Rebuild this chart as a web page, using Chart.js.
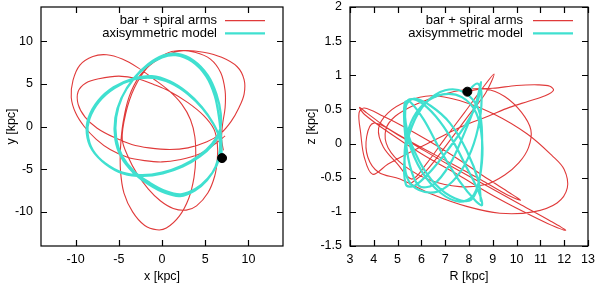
<!DOCTYPE html>
<html>
<head>
<meta charset="utf-8">
<script src="https://cdn.jsdelivr.net/npm/chart.js@4"></script>
<style>
  body { margin: 0; background: #fff; }
  #wrap { display: flex; width: 600px; height: 288px; }
  canvas { display: block; }
</style>
</head>
<body>
<div id="wrap">
  <canvas id="left" width="300" height="288"></canvas>
  <canvas id="right" width="300" height="288"></canvas>
</div>
<script>
const seriesLabels = ['bar + spiral arms', 'axisymmetric model'];
const redColor = '#e03a3a';
const cyanColor = '#40e0d0';

// left panel: x-y plane [kpc]
const xyTicks = [-10, -5, 0, 5, 10];
const startXY = [[6.95, -3.7]];
const redXY = [
  [7.3,-1.1],[6.2,-2.0],[4.4,-3.2],[2,-3.9],[0,-4.15],[-2,-4.0],[-4,-3.6],[-6,-2.7],[-7.6,-1.5],[-9,0],
  [-10,1.6],[-10.5,3.4],[-10.3,5.4],[-9.5,7.2],[-8,8.2],[-6.4,8.4],[-4.6,7.9],[-2.8,6.9],[-1,5.6],[0.8,4.2],
  [2.3,2.6],[3.3,0.8],[3.8,-1.2],[3.9,-3.6],[3.7,-6],[3.1,-8.4],[2,-10.5],[0.5,-11.9],[-0.6,-12.1],[-2,-11.6],
  [-3.4,-10],[-4.4,-7.8],[-4.8,-5.2],[-4.8,-2.5],[-4.5,0.5],[-3.8,3.5],[-2.6,5.9],[-1,7.5],[0.8,8.5],[2.7,8.9],
  [4.8,8.7],[6.9,8.1],[8.7,7],[9.5,5.5],[9.5,3.8],[8.9,2.2],[8,0.6],[6.8,-0.8],[5.2,-1.8],[3,-2.5],
  [0.9,-2.7],[-1.5,-2.5],[-3.5,-2.1],[-5.5,-1.3],[-7.5,-0.2],[-8.9,1.1],[-9.7,2.6],[-9.7,4.1],[-8.8,5.1],[-7.3,5.6],
  [-5,5.9],[-2.8,5.6],[-0.9,4.9],[0.9,4.1],[3,2.8],[4.8,1.3],[6,-0.3],[6.4,-2],[6.4,-3.8],[6.1,-5.8],
  [5.3,-7.8],[4,-9.3],[2.8,-9.8],[1.3,-9.6],[-0.2,-8.7],[-1.6,-7.3],[-2.9,-5.5],[-3.9,-3.6],[-4.6,-1.5],[-4.2,1.5],
  [-3.2,4.5],[-1.6,7.0],[0.4,8.5],[2,8.9],[3.8,8.7],[5.6,7.9],[6.8,6.3],[7.3,4.2],[7.3,2.2],[7.0,0.2],
  [6.9,-1.5],[7.1,-2.8]
];
const cyanXY = [
  [6.9,-3.7],[6.85,-1.6],[6.6,1.0],[6.1,3.6],[5.1,5.9],[3.5,7.6],[1.6,8.35],[0,8.1],[-1.7,7.1],[-3.4,5.4],
  [-4.7,3.3],[-5.4,1],[-5.4,-1.5],[-4.7,-3.6],[-3.3,-5.4],[-1.5,-6.8],[0.4,-7.8],[2.1,-8.15],[3.8,-7.5],[5.2,-6.3],
  [6.2,-4.7],[6.7,-2.8],[6.6,-1.2],[5.9,0.4],[4.6,2.3],[2.9,4.0],[0.9,5.3],[-1.2,5.9],[-3.4,5.6],[-5.6,4.6],
  [-7.4,3.0],[-8.5,1.0],[-8.7,-0.8],[-8.1,-2.7],[-6.6,-4.3],[-4.6,-5.4],[-2.3,-5.7],[0,-5.4],[2.3,-4.6],[4.3,-3.4],
  [5.8,-2.0],[6.7,-0.4],[6.8,1.5],[6.3,3.8],[5.3,6.0],[3.7,7.7],[1.8,8.5],[0.1,8.3],[-1.6,7.3],[-3.3,5.6],
  [-4.6,3.5],[-5.3,1.1],[-5.3,-1.4],[-4.6,-3.5],[-3.2,-5.3],[-1.4,-6.6],[0.5,-7.6],[2.2,-7.95],[3.9,-7.3],[5.3,-6.1],
  [6.3,-4.6],[6.8,-3.0],[6.7,-1.4],[6.0,0.2],[4.7,2.1],[3.0,3.8],[1.0,5.1],[-1.1,5.7],[-3.3,5.5],[-5.5,4.5],
  [-7.3,2.9],[-8.4,0.9],[-8.6,-0.9],[-8.0,-2.8],[-6.5,-4.4],[-4.5,-5.5],[-2.2,-5.8],[0.1,-5.5],[2.4,-4.7],[4.4,-3.5],
  [5.9,-2.1],[6.8,-0.6]
];

// right panel: meridional plane R-z [kpc]
const rTicks = [3, 4, 5, 6, 7, 8, 9, 10, 11, 12, 13];
const zTicks = [-1.5, -1, -0.5, 0, 0.5, 1, 1.5, 2];
const startRZ = [[7.93, 0.76]];
const redRZ = [
  [7.93,0.76],[8.7,0.8],[9.5,0.69],[10.2,0.46],[10.6,0.2],[10.5,-0.06],[10.1,-0.28],[9.5,-0.46],[8.7,-0.6],[7.6,-0.63],
  [6.4,-0.54],[5.3,-0.33],[4.6,-0.06],[4.5,0.2],[4.9,0.4],[5.8,0.58],[6.9,0.72],[8.0,0.8],[9.0,0.81],[10.0,0.85],
  [10.9,0.86],[11.4,0.84],[11.55,0.78],[11.2,0.7],[10.5,0.62],[9.7,0.53],[8.8,0.4],[7.7,0.25],[6.6,0.06],[5.5,-0.13],
  [4.6,-0.3],[3.95,-0.45],[3.6,-0.2],[3.45,0.15],[3.38,0.45],[3.6,0.52],[4.4,0.4],[5.3,0.24],[6.3,0.04],[7.6,-0.24],
  [8.8,-0.52],[9.7,-0.72],[10.16,-0.83],[9.6,-0.75],[8.5,-0.53],[7.2,-0.28],[5.9,-0.04],[4.6,0.22],[3.7,0.45],[3.4,0.53],
  [3.6,0.43],[4.6,0.17],[6,-0.15],[7.5,-0.45],[9,-0.76],[10.3,-1.0],[11.3,-1.17],[12.06,-1.27],[11.4,-1.13],[10.2,-0.9],
  [8.8,-0.63],[7.4,-0.36],[6.1,-0.1],[5,0.13],[4.0,0.3],[3.7,0.1],[3.75,-0.2],[4.2,-0.42],[5.1,-0.52],[6.5,-0.75],
  [7.9,-0.92],[9.3,-1.02],[10.7,-1.0],[11.7,-0.87],[12.13,-0.65],[12.0,-0.38],[11.5,-0.18],[10.45,0.14],[9.0,0.44],[7.6,0.63],
  [6.4,0.7],[5.4,0.62],[4.6,0.45],[4.2,0.22],[4.4,-0.05],[5.0,-0.3],[5.6,-0.52],[6.2,-0.3],[7.0,0.08],[7.8,0.45],
  [8.5,0.78],[9.05,1.02],[8.7,0.74],[8.0,0.42],[7.1,0.0],[6.2,-0.4],[5.5,-0.6]
];
const cyanRZ = [
  [7.93,0.76],[8.35,0.88],[8.52,0.75],[8.45,0.35],[8.1,-0.1],[7.5,-0.48],[6.7,-0.7],[5.9,-0.68],[5.4,-0.5],[5.3,-0.1],
  [5.55,0.3],[6.1,0.58],[6.9,0.72],[7.7,0.68],[8.3,0.45],[8.55,0.05],[8.5,-0.4],[8.2,-0.75],[7.6,-0.85],[6.8,-0.72],
  [6.0,-0.4],[5.45,0.05],[5.3,0.45],[5.45,0.64],[5.9,0.62],[6.6,0.4],[7.3,0.05],[7.9,-0.35],[8.4,-0.7],[8.55,-0.9],
  [8.3,-0.85],[7.6,-0.55],[6.8,-0.1],[6.1,0.35],[5.5,0.62],[5.3,0.6],[5.3,0.2],[5.5,-0.3],[5.9,-0.62],[6.5,-0.6],
  [7.2,-0.3],[7.8,0.15],[8.3,0.6],[8.5,0.9],[8.35,0.6],[7.9,0.3],[7.2,-0.05],[6.4,-0.4],[5.7,-0.62],[5.35,-0.6],
  [5.3,-0.2],[5.6,0.25],[6.2,0.6],[7.0,0.78],[7.8,0.75],[8.4,0.5],[8.55,0.1],[8.45,-0.5],[8.1,-0.82],[7.4,-0.8],
  [6.6,-0.6],[5.9,-0.25],[5.4,0.2],[5.35,0.55],[5.7,0.66],[6.4,0.55],[7.2,0.3],[7.9,-0.1],[8.4,-0.55],[8.5,-0.85]
];

const toPts = arr => arr.map(p => ({ x: p[0], y: p[1] }));

Chart.defaults.font.family = '"Liberation Sans", Arial, sans-serif';
Chart.defaults.font.size = 12;
Chart.defaults.color = '#000';

const framePlugin = {
  id: 'frame',
  afterDraw(chart, args, opts) {
    const { ctx, chartArea: a, scales } = chart;
    ctx.save();
    ctx.strokeStyle = '#000';
    ctx.lineWidth = 1.2;
    ctx.strokeRect(a.left, a.top, a.right - a.left, a.bottom - a.top);
    const len = 6;
    ctx.beginPath();
    scales.x.ticks.forEach(t => {
      const px = Math.round(scales.x.getPixelForValue(t.value)) + 0.5;
      ctx.moveTo(px, a.bottom); ctx.lineTo(px, a.bottom - len);
      ctx.moveTo(px, a.top); ctx.lineTo(px, a.top + len);
    });
    scales.y.ticks.forEach(t => {
      const py = Math.round(scales.y.getPixelForValue(t.value)) + 0.5;
      ctx.moveTo(a.left, py); ctx.lineTo(a.left + len, py);
      ctx.moveTo(a.right, py); ctx.lineTo(a.right - len, py);
    });
    ctx.stroke();

    // legend, gnuplot style: text right aligned, sample line on the right
    ctx.font = '13px "Liberation Sans", Arial, sans-serif';
    ctx.textAlign = 'right';
    ctx.textBaseline = 'middle';
    ctx.fillStyle = '#000';
    const rows = [[seriesLabels[0], redColor, 1.2], [seriesLabels[1], cyanColor, 2.2]];
    rows.forEach((r, i) => {
      const y = opts.y0 + i * 12.6;
      ctx.fillText(r[0], opts.textRight, y);
      ctx.strokeStyle = r[1];
      ctx.lineWidth = r[2];
      ctx.beginPath();
      ctx.moveTo(opts.lineX0, y); ctx.lineTo(opts.lineX1, y);
      ctx.stroke();
    });
    ctx.restore();
  }
};

function makeChart(canvasId, red, cyan, start, range, ticks, titles, yWidth, padRight, legendPos) {
  const fixTicks = vals => s => { s.ticks = vals.map(v => ({ value: v })); };
  return new Chart(document.getElementById(canvasId), {
    type: 'scatter',
    data: {
      datasets: [
        { label: seriesLabels[0], data: toPts(red), showLine: true, borderColor: redColor, borderWidth: 1.1,
          pointRadius: 0, tension: 0.35, order: 3 },
        { label: seriesLabels[1], data: toPts(cyan), showLine: true, borderColor: cyanColor, borderWidth: 2.2,
          pointRadius: 0, tension: 0.35, order: 2 },
        { label: 'start', data: toPts(start), pointRadius: 4.5, pointBackgroundColor: '#000',
          pointBorderColor: '#000', order: 1 }
      ]
    },
    options: {
      responsive: false,
      animation: false,
      layout: { padding: { left: 0, top: 0, right: padRight, bottom: 0 } },
      plugins: { legend: { display: false }, tooltip: { enabled: false }, frame: legendPos },
      scales: {
        x: {
          type: 'linear', min: range[0], max: range[1],
          afterBuildTicks: fixTicks(ticks[0]),
          afterFit: s => { s.height = 42; s.paddingLeft = 0; s.paddingRight = 0; },
          grid: { display: false, drawTicks: false }, border: { display: false },
          ticks: { padding: 6, maxRotation: 0, font: { size: 12.5 }, callback: v => String(v) },
          title: { display: true, text: titles[0], font: { size: 12.5 }, padding: { top: 4, bottom: 4 } }
        },
        y: {
          type: 'linear', min: range[2], max: range[3],
          afterBuildTicks: fixTicks(ticks[1]),
          afterFit: s => { s.width = yWidth; s.paddingTop = 7; s.paddingBottom = 0; },
          grid: { display: false, drawTicks: false }, border: { display: false },
          ticks: { padding: 8, font: { size: 12.5 }, callback: v => String(v) },
          title: { display: true, text: titles[1], font: { size: 12.5 }, padding: { top: 4, bottom: 4 } }
        }
      }
    },
    plugins: [framePlugin]
  });
}

makeChart('left', redXY, cyanXY, startXY, [-14, 14, -14, 14], [xyTicks, xyTicks],
  ['x [kpc]', 'y [kpc]'], 41, 17, { textRight: 217, lineX0: 225, lineX1: 265, y0: 20.7 });
makeChart('right', redRZ, cyanRZ, startRZ, [3, 13, -1.5, 2], [rTicks, zTicks],
  ['R [kpc]', 'z [kpc]'], 50, 12, { textRight: 223, lineX0: 233, lineX1: 273, y0: 20.7 });
</script>
</body>
</html>
